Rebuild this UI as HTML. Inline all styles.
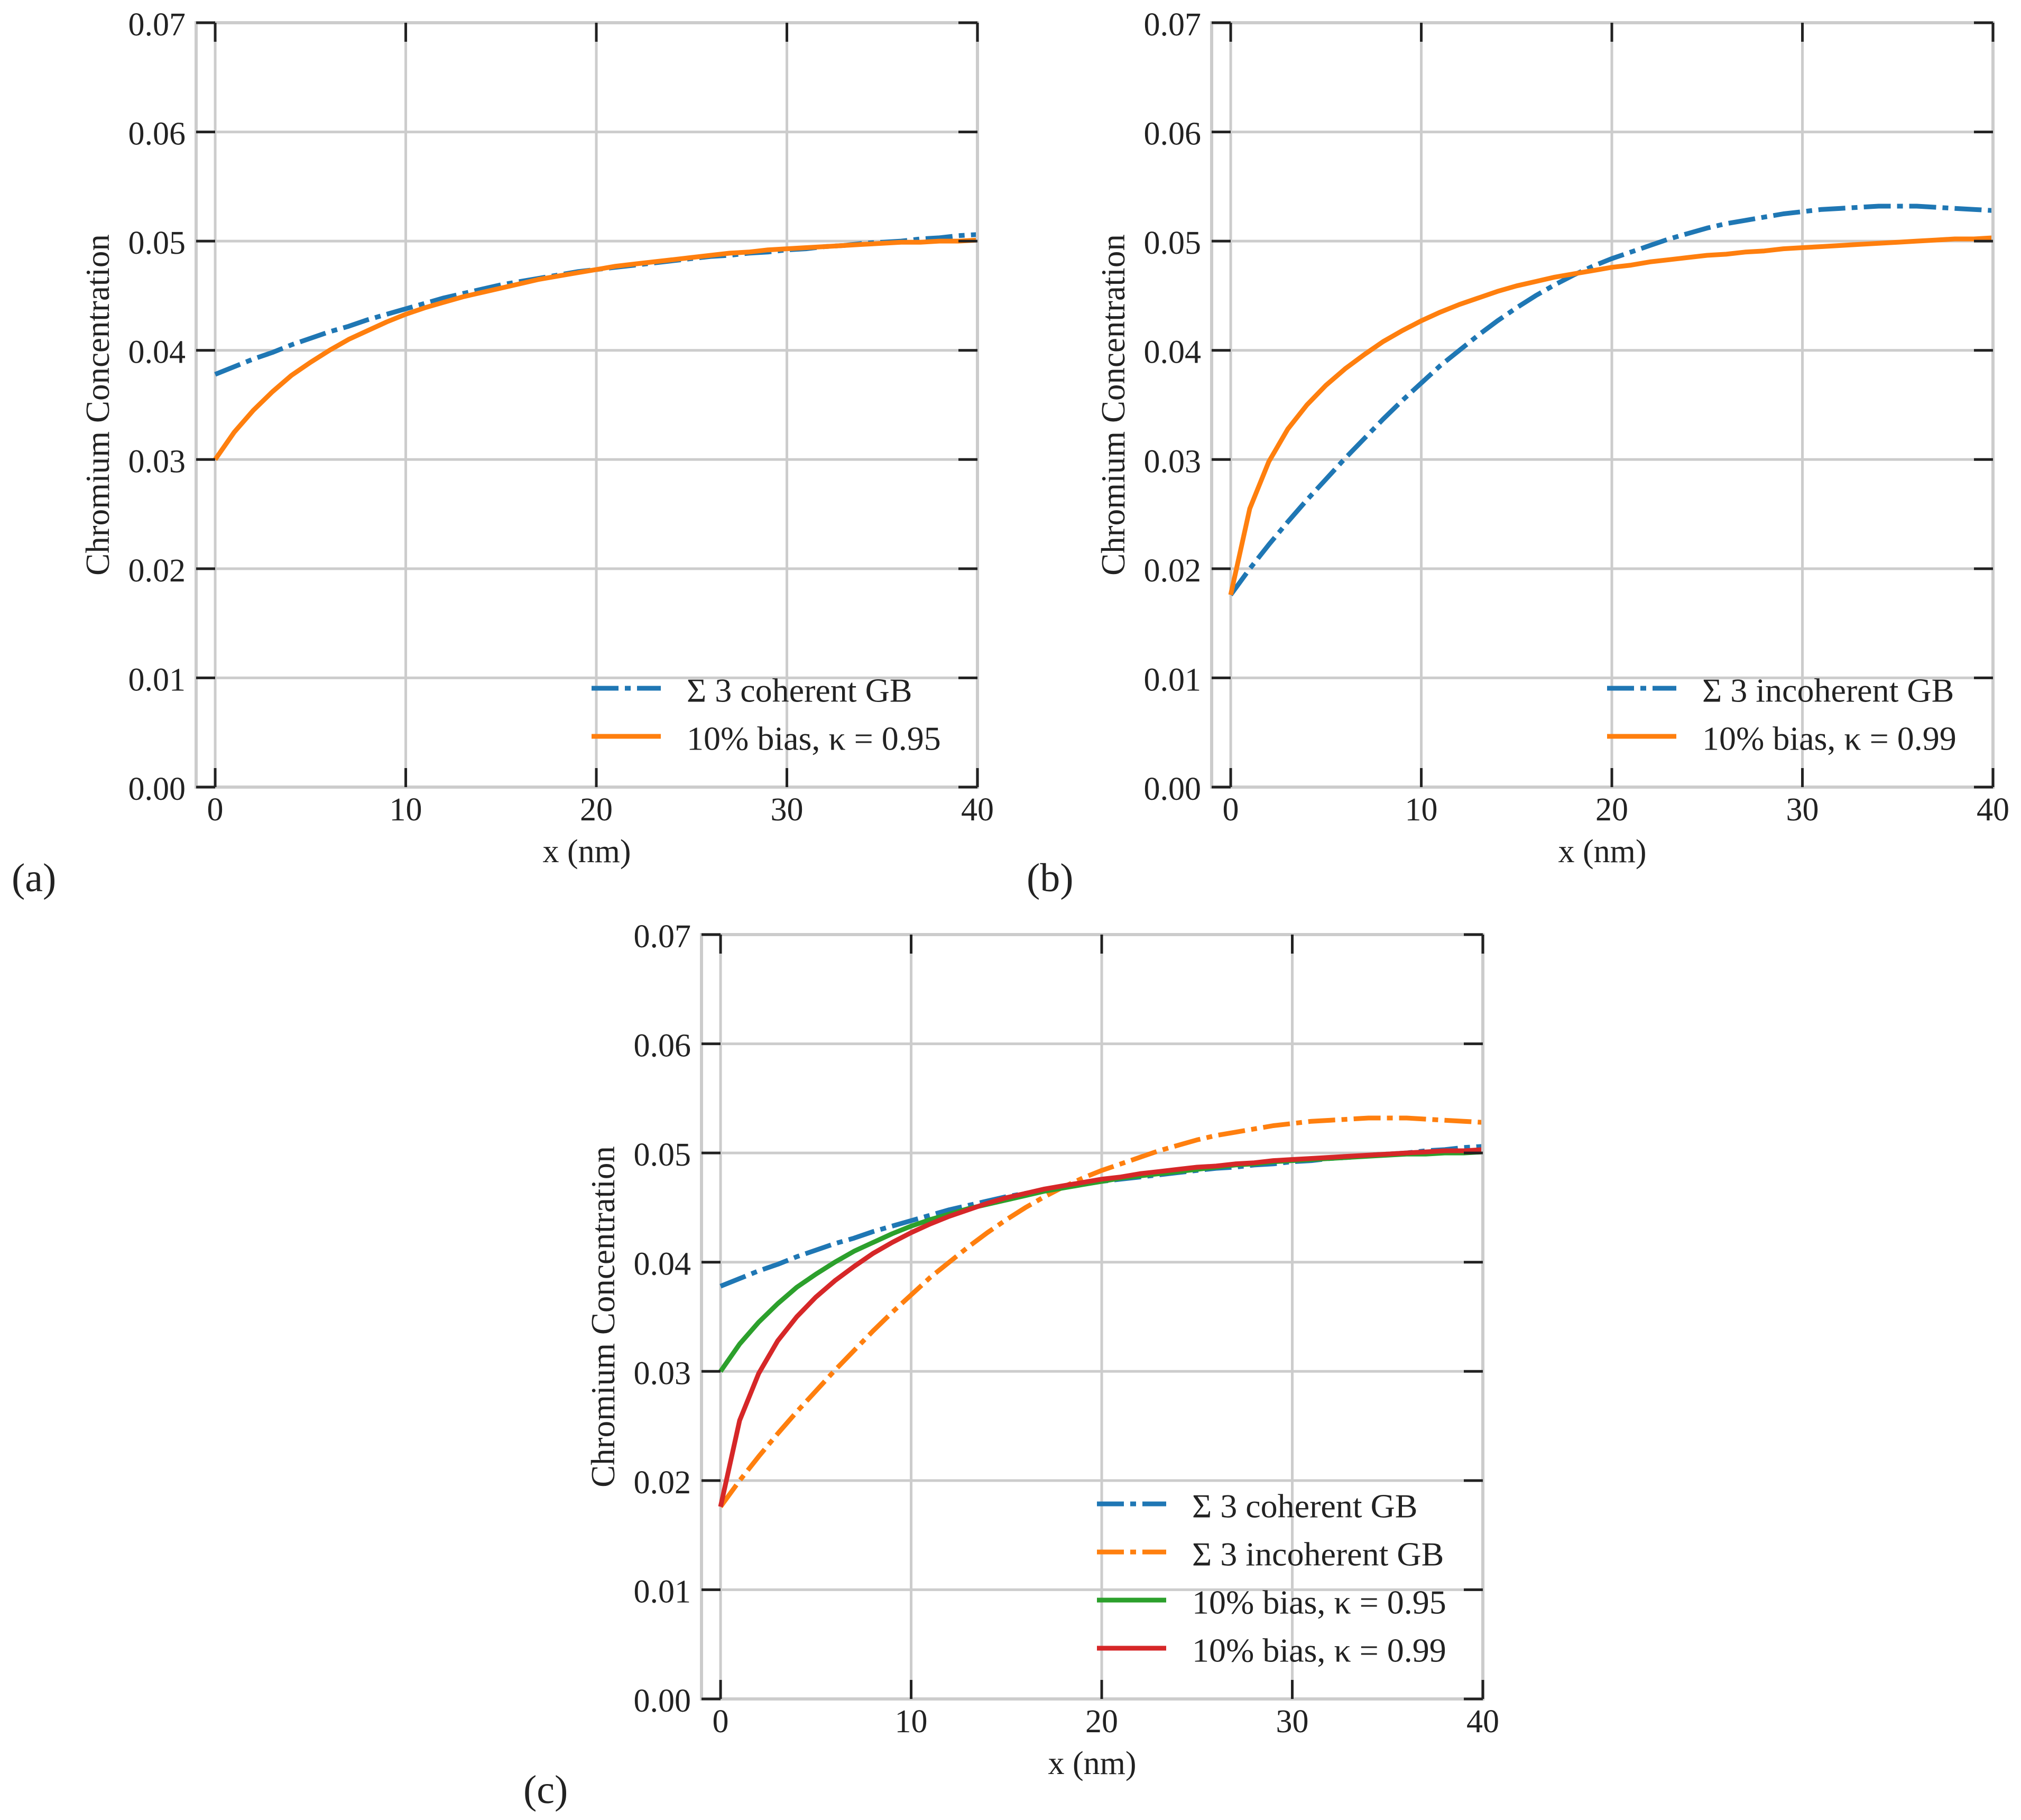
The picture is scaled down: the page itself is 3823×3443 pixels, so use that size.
<!DOCTYPE html>
<html><head><meta charset="utf-8"><style>
html,body{margin:0;padding:0;background:#fff;}
svg{display:block;}
text{font-family:"Liberation Serif",serif;fill:#222;}
</style></head><body>
<svg id="fig" width="3823" height="3443" viewBox="0 0 3823 3443" xmlns="http://www.w3.org/2000/svg"></svg>
<script>
const xs = [];
for (let i = 0; i <= 40; i++) xs.push(i);
const coherent = [.0378,.0385,.0392,.0398,.0405,.0411,.0417,.0422,.0428,.0433,.0438,.0443,.0448,.0452,.0456,.0460,.0463,.0466,.0469,.0472,.0474,.0476,.0478,.0480,.0482,.0484,.0486,.0487,.0489,.0490,.0492,.0493,.0495,.0496,.0498,.0499,.0500,.0502,.0503,.0505,.0506];
const incoherent = [.0176,.0200,.0222,.0243,.0263,.0282,.0301,.0319,.0337,.0354,.0370,.0386,.0400,.0414,.0427,.0439,.0450,.0460,.0469,.0477,.0484,.0490,.0496,.0502,.0507,.0512,.0516,.0519,.0522,.0525,.0527,.0529,.0530,.0531,.0532,.0532,.0532,.0531,.0530,.0529,.0528];
const bias95 = [.0300,.0325,.0345,.0362,.0377,.0389,.0400,.0410,.0418,.0426,.0433,.0439,.0444,.0449,.0453,.0457,.0461,.0465,.0468,.0471,.0474,.0477,.0479,.0481,.0483,.0485,.0487,.0489,.0490,.0492,.0493,.0494,.0495,.0496,.0497,.0498,.0499,.0499,.0500,.0500,.0501];
const bias99 = [.0176,.0255,.0298,.0328,.0350,.0368,.0383,.0396,.0408,.0418,.0427,.0435,.0442,.0448,.0454,.0459,.0463,.0467,.0470,.0473,.0476,.0478,.0481,.0483,.0485,.0487,.0488,.0490,.0491,.0493,.0494,.0495,.0496,.0497,.0498,.0499,.0500,.0501,.0502,.0502,.0503];
const xTicks = [0,10,20,30,40];
const yTicks = [0,0.01,0.02,0.03,0.04,0.05,0.06,0.07];
const yTickLabels = ["0.00","0.01","0.02","0.03","0.04","0.05","0.06","0.07"];

const NS = "http://www.w3.org/2000/svg";
const fig = document.getElementById('fig');
function mk(tag, attrs, parent) {
  const e = document.createElementNS(NS, tag);
  for (const k in attrs) e.setAttribute(k, attrs[k]);
  parent.appendChild(e);
  return e;
}
const DASHDOT = "51 12 11 12";
const W = 1478;

function panel(cfg) {
  const g = mk('g', {}, fig);
  
  
  const L = cfg.left, R = cfg.left + W, T = cfg.top, B = cfg.top + 1446;
  const sx = v => L + (v + 1) / 41 * (R - L);
  const sy = v => B - v / 0.07 * (B - T);
  xTicks.forEach(t => {
    const l = mk('line', {x1: sx(t), x2: sx(t), y1: T, y2: B, stroke: '#cccccc', 'stroke-width': 5}, g);
    
    
  });
  yTicks.forEach(t => {
    const l = mk('line', {x1: L, x2: R, y1: sy(t), y2: sy(t), stroke: '#cccccc', 'stroke-width': 5}, g);
    
    
  });
  cfg.series.forEach(s => {
    const d = s.data.map((v, i) => (i ? 'L' : 'M') + sx(xs[i]).toFixed(1) + ' ' + sy(v).toFixed(1)).join(' ');
    const p = mk('path', {d: d, fill: 'none', stroke: s.color, 'stroke-width': 9, 'stroke-linejoin': 'round'}, g);
    if (s.dash) p.setAttribute('stroke-dasharray', DASHDOT);
    
    
  });
  const f = mk('rect', {x: L, y: T, width: R - L, height: B - T, fill: 'none', stroke: '#cccccc', 'stroke-width': 6}, g);
  
  
  xTicks.forEach(t => {
    const a = mk('line', {x1: sx(t), x2: sx(t), y1: B, y2: B - 36, stroke: '#222', 'stroke-width': 5}, g);
    
    
    const b = mk('line', {x1: sx(t), x2: sx(t), y1: T, y2: T + 36, stroke: '#222', 'stroke-width': 5}, g);
    
    
    const tx = mk('text', {x: sx(t), y: B + 43, 'font-size': 62, 'text-anchor': 'middle', 'dominant-baseline': 'central'}, g);
    tx.textContent = String(t);
    
    
  });
  yTicks.forEach((t, i) => {
    const a = mk('line', {x1: L, x2: L + 36, y1: sy(t), y2: sy(t), stroke: '#222', 'stroke-width': 5}, g);
    
    
    const b = mk('line', {x1: R, x2: R - 36, y1: sy(t), y2: sy(t), stroke: '#222', 'stroke-width': 5}, g);
    
    
    const tx = mk('text', {x: L - 20, y: sy(t) + 4, 'font-size': 62, 'text-anchor': 'end', 'dominant-baseline': 'central'}, g);
    tx.textContent = yTickLabels[i];
    
    
  });
  const xl = mk('text', {x: (L + R) / 2, y: B + 122, 'font-size': 62, 'text-anchor': 'middle', 'dominant-baseline': 'central'}, g);
  xl.textContent = 'x (nm)';
  
  
  const cy = (T + B) / 2, cx = L - 186;
  const yl = mk('text', {x: cx, y: cy, 'font-size': 63, 'text-anchor': 'middle', 'dominant-baseline': 'central', transform: 'rotate(-90 ' + cx + ' ' + cy + ')'}, g);
  yl.textContent = 'Chromium Concentration';
  
  
  const pl = mk('text', {x: cfg.labelX, y: B + 172, 'font-size': 76, 'dominant-baseline': 'central'}, g);
  pl.textContent = cfg.label;
  
  
  const lg = mk('g', {}, g);
  
  
  const lx = L + 748, n = cfg.series.length;
  cfg.series.forEach((s, i) => {
    const y = B - 96 - (n - 1 - i) * 91;
    const ln = mk('line', {x1: lx, x2: lx + 131, y1: y, y2: y, stroke: s.color, 'stroke-width': 9}, lg);
    if (s.dash) ln.setAttribute('stroke-dasharray', DASHDOT);
    
    
    const tx = mk('text', {x: lx + 180, y: y + 4, 'font-size': 64, 'dominant-baseline': 'central'}, lg);
    tx.textContent = s.label;
    
    
  });
}

panel({name: 'panel-a', left: 371, top: 43, label: '(a)', labelX: 22, series: [
  {id: 'coherent', data: coherent, color: '#1f77b4', dash: true, label: 'Σ 3 coherent GB'},
  {id: 'bias-095', data: bias95, color: '#ff7f0e', dash: false, label: '10% bias, κ = 0.95'}
]});
panel({name: 'panel-b', left: 2292, top: 43, label: '(b)', labelX: 1942, series: [
  {id: 'incoherent', data: incoherent, color: '#1f77b4', dash: true, label: 'Σ 3 incoherent GB'},
  {id: 'bias-099', data: bias99, color: '#ff7f0e', dash: false, label: '10% bias, κ = 0.99'}
]});
panel({name: 'panel-c', left: 1327, top: 1768, label: '(c)', labelX: 990, series: [
  {id: 'coherent', data: coherent, color: '#1f77b4', dash: true, label: 'Σ 3 coherent GB'},
  {id: 'incoherent', data: incoherent, color: '#ff7f0e', dash: true, label: 'Σ 3 incoherent GB'},
  {id: 'bias-095', data: bias95, color: '#2ca02c', dash: false, label: '10% bias, κ = 0.95'},
  {id: 'bias-099', data: bias99, color: '#d62728', dash: false, label: '10% bias, κ = 0.99'}
]});
</script>
</body></html>
